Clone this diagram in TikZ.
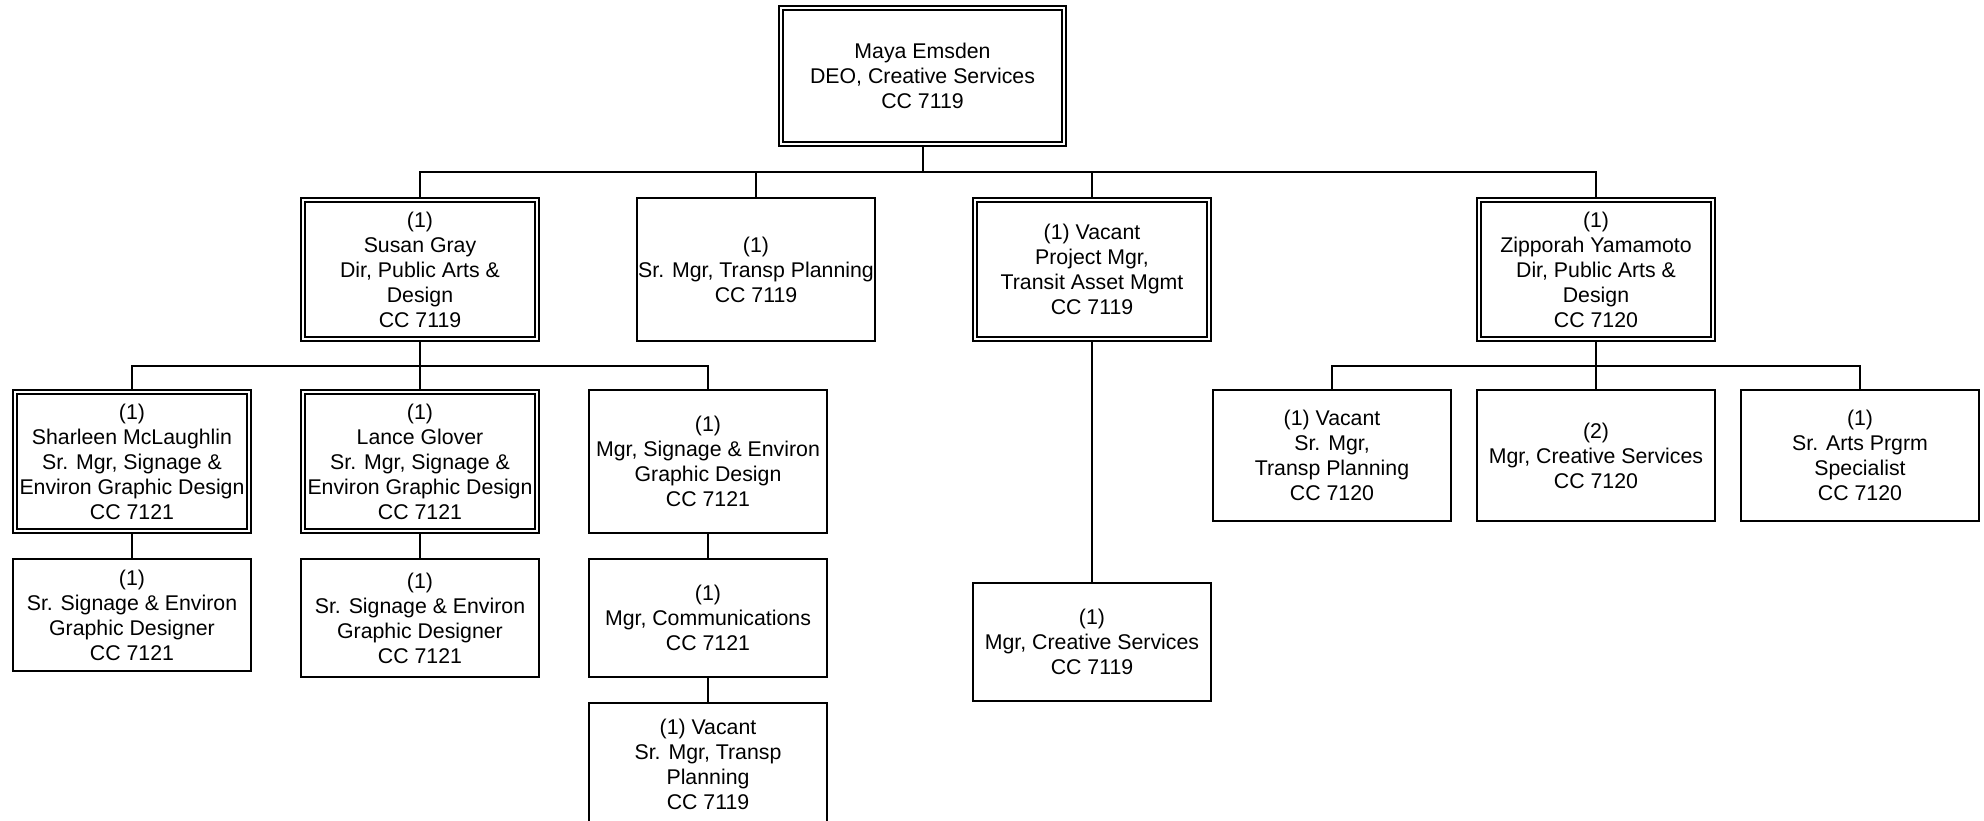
\documentclass[tikz,border=0pt]{standalone}
\usepackage{fontspec}
\setmainfont{Liberation Sans}

\begin{document}
\begin{tikzpicture}[x=1pt, y=-1pt,
    box/.style={draw, line width=2pt, outer sep=1pt, inner sep=0pt, align=center,
      minimum width=238pt, font=\fontsize{21.3}{25}\selectfont},
    dbox/.style={box, double, double distance=2pt, outer sep=3pt, minimum width=234pt}]
  \useasboundingbox (0,0) rectangle (1984,821);
  \clip (0,0) rectangle (1984,821);

  % top
  \node[dbox, minimum width=283pt, minimum height=136pt] (emsden) at (922.5,76) {Maya Emsden\\DEO, Creative Services\\CC 7119};

  % second row
  \node[dbox, minimum height=139pt] (gray) at (420,269.5) {(1)\\Susan Gray\\Dir, Public Arts \&\\Design\\CC 7119};
  \node[box, minimum height=143pt] (srtransp) at (756,269.5) {(1)\\Sr. Mgr, Transp Planning\\CC 7119};
  \node[dbox, minimum height=139pt] (assetmgr) at (1092,269.5) {(1) Vacant\\Project Mgr,\\Transit Asset Mgmt\\CC 7119};
  \node[dbox, minimum height=139pt] (yamamoto) at (1596,269.5) {(1)\\Zipporah Yamamoto\\Dir, Public Arts \&\\Design\\CC 7120};

  % under Susan Gray
  \node[dbox, minimum height=139pt] (mclaughlin) at (132,461.5) {(1)\\Sharleen McLaughlin\\Sr. Mgr, Signage \&\\Environ Graphic Design\\CC 7121};
  \node[dbox, minimum height=139pt] (glover) at (420,461.5) {(1)\\Lance Glover\\Sr. Mgr, Signage \&\\Environ Graphic Design\\CC 7121};
  \node[box, minimum height=143pt] (signmgr) at (708,461.5) {(1)\\Mgr, Signage \& Environ\\Graphic Design\\CC 7121};
  \node[box, minimum height=112pt] (designer1) at (132,615) {(1)\\Sr. Signage \& Environ\\Graphic Designer\\CC 7121};
  \node[box, minimum height=118pt] (designer2) at (420,618) {(1)\\Sr. Signage \& Environ\\Graphic Designer\\CC 7121};
  \node[box, minimum height=118pt] (comms) at (708,618) {(1)\\Mgr, Communications\\CC 7121};
  \node[box, minimum height=122pt] (vactransp) at (708,764) {(1) Vacant\\Sr. Mgr, Transp\\Planning\\CC 7119};

  % under the vacant project mgr
  \node[box, minimum height=118pt] (creative1) at (1092,642) {(1)\\Mgr, Creative Services\\CC 7119};

  % under Zipporah Yamamoto
  \node[box, minimum height=131pt] (vacplan) at (1332,455.5) {(1) Vacant\\Sr. Mgr,\\Transp Planning\\CC 7120};
  \node[box, minimum height=131pt] (creative2) at (1596,455.5) {(2)\\Mgr, Creative Services\\CC 7120};
  \node[box, minimum height=131pt] (artsspec) at (1860,455.5) {(1)\\Sr. Arts Prgrm\\Specialist\\CC 7120};

  \coordinate (topbus) at (922.5,172);
  \coordinate (graybus) at (420,366);
  \coordinate (zipbus) at (1596,366);

  \begin{scope}[line width=2pt]
    \draw (emsden.south) -- (topbus);
    \draw (gray.north) |- (topbus) -| (yamamoto.north);
    \draw (srtransp.north) -- (srtransp.north |- topbus);
    \draw (assetmgr.north) -- (assetmgr.north |- topbus);
    \draw (assetmgr.south) -- (creative1.north);

    \draw (gray.south) -- (glover.north);
    \draw (mclaughlin.north) |- (graybus) -| (signmgr.north);
    \draw (mclaughlin.south) -- (designer1.north);
    \draw (glover.south) -- (designer2.north);
    \draw (signmgr.south) -- (comms.north);
    \draw (comms.south) -- (vactransp.north);

    \draw (yamamoto.south) -- (creative2.north);
    \draw (vacplan.north) |- (zipbus) -| (artsspec.north);
  \end{scope}
\end{tikzpicture}
\end{document}
